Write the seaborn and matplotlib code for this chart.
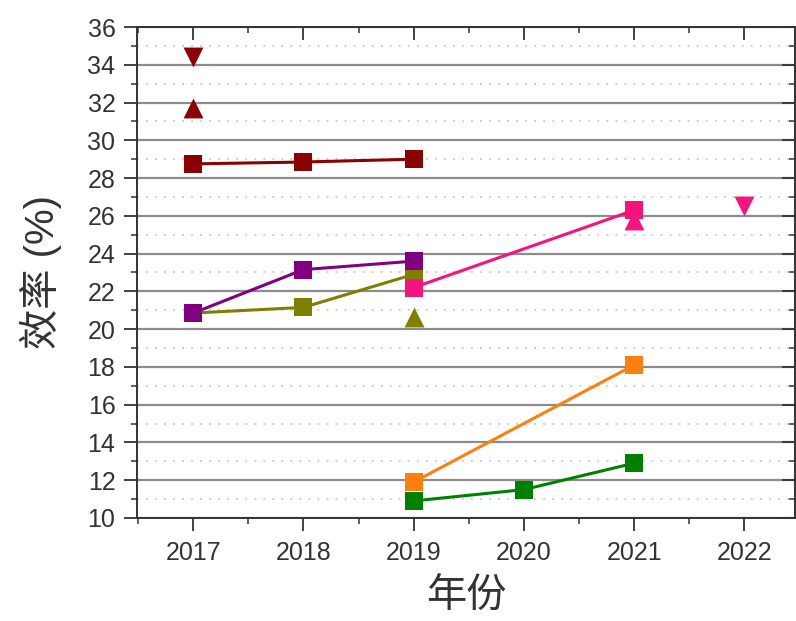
import matplotlib
matplotlib.use("Agg")
import matplotlib.pyplot as plt
import pandas as pd
import seaborn as sns
from matplotlib.ticker import MultipleLocator

# Efficiency records by year (%)
years_3 = [2017, 2018, 2019]
darkred_sq = [28.75, 28.85, 29.0]
olive_sq = [20.85, 21.15, 22.9]
purple_sq = [20.85, 23.15, 23.6]
pink_years = [2019, 2021]
pink_sq = [22.2, 26.3]
orange_years = [2019, 2021]
orange_sq = [11.9, 18.1]
green_years = [2019, 2020, 2021]
green_sq = [10.9, 11.5, 12.9]

# Single-point records
darkred_up_year, darkred_up = [2017], [31.7]
darkred_down_year, darkred_down = [2017], [34.4]
olive_up_year, olive_up = [2019], [20.65]
pink_up_year, pink_up = [2021], [25.8]
pink_down_year, pink_down = [2022], [26.5]

x_ticks = [2017, 2018, 2019, 2020, 2021, 2022]
y_ticks = list(range(10, 37, 2))

sns.set_theme(style="white")
plt.rcParams["font.family"] = ["Liberation Sans", "Noto Sans CJK SC"]

fig = plt.figure(figsize=(7.96, 6.21), dpi=100)
ax = fig.add_axes([0.172, 0.166, 0.827, 0.7905])

C_DR = "#8b0000"
C_OL = "#808000"
C_PU = "#800080"
C_PK = "#f5147d"
C_OR = "#ff7f0e"
C_GR = "#008000"

lw = 2.2
ms = 13

def line(xs, ys, color):
    df = pd.DataFrame({"year": xs, "eff": ys})
    sns.lineplot(data=df, x="year", y="eff", ax=ax, color=color, lw=lw,
                 marker="s", markersize=ms, markeredgewidth=0, zorder=3)

def point(xs, ys, color, marker):
    df = pd.DataFrame({"year": xs, "eff": ys})
    sns.scatterplot(data=df, x="year", y="eff", ax=ax, color=color,
                    marker=marker, s=(ms * 1.1) ** 2, linewidth=0, zorder=3)

line(years_3, darkred_sq, C_DR)
point(darkred_up_year, darkred_up, C_DR, "^")
point(darkred_down_year, darkred_down, C_DR, "v")
line(years_3, olive_sq, C_OL)
point(olive_up_year, olive_up, C_OL, "^")
line(years_3, purple_sq, C_PU)
line(pink_years, pink_sq, C_PK)
point(pink_up_year, pink_up, C_PK, "^")
point(pink_down_year, pink_down, C_PK, "v")
line(orange_years, orange_sq, C_OR)
line(green_years, green_sq, C_GR)

ax.set_xlim(2016.49, 2022.46)
ax.set_ylim(10, 36)
ax.set_xticks(x_ticks)
ax.set_xticklabels([str(y) for y in x_ticks])
ax.set_yticks(y_ticks)
ax.xaxis.set_minor_locator(MultipleLocator(0.5))
ax.yaxis.set_minor_locator(MultipleLocator(1))

ax.grid(False)
ax.grid(axis="y", which="major", color="#8c8c8c", lw=1.6, ls="-", zorder=1)
ax.grid(axis="y", which="minor", color="#c8c8c8", lw=1.3, ls=(0, (1, 4)), zorder=1)
ax.set_axisbelow(True)

for s in ax.spines.values():
    s.set_color("#333333")
    s.set_linewidth(1.4)
    s.set_visible(True)

ax.tick_params(axis="both", which="major", labelsize=18, colors="#333333",
               labelcolor="#333333", width=1.3, length=9.5, direction="out")
ax.tick_params(axis="both", which="minor", width=1.1, length=4.5,
               colors="#333333", direction="out")
ax.tick_params(left=True, bottom=True, top=True, right=True, which="both")
ax.xaxis.set_tick_params(which="major", pad=7)
ax.yaxis.set_tick_params(which="major", pad=6)
for t in ax.xaxis.get_major_ticks() + ax.xaxis.get_minor_ticks():
    t.tick2line.set_marker(matplotlib.lines.TICKDOWN)
for t in ax.yaxis.get_major_ticks() + ax.yaxis.get_minor_ticks():
    t.tick2line.set_marker(matplotlib.lines.TICKLEFT)

ax.set_xlabel("年份", fontsize=29, color="#333333", labelpad=9)
ax.set_ylabel("效率 (%)", fontsize=29, color="#333333", labelpad=18)

fig.savefig("out.png", dpi=100)
